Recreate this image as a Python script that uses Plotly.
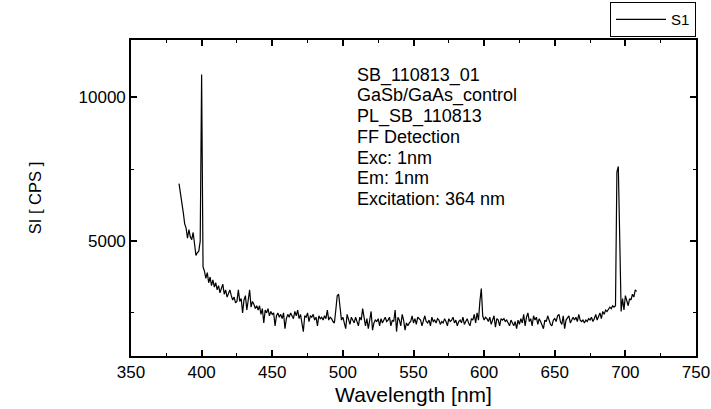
import plotly.graph_objects as go

# Wavelength start (1 nm steps)
wl_start = 384
intensity = [
    7000, 6700, 6250, 6000, 5600, 5450, 5100, 5400, 5150, 5050,   # 384-393
    5300, 4850, 4500, 4600, 4650, 5000, 10800, 4100, 3950, 3700,  # 394-403
    3900, 3550, 3750, 3450, 3650, 3400, 3550, 3300, 3450, 3200,   # 404-413
    3350, 3500, 3150, 3300, 3050, 3200, 3300, 3100, 2950, 3050,   # 414-423
    2850, 2900, 3300, 2900, 3000, 2500, 2950, 3100, 2600, 2950,   # 424-433
    3300, 2700, 2900, 2800, 2650, 2750, 2600, 2750, 2450, 2650,   # 434-443
    2150, 2600, 2500, 2650, 2400, 2550, 2450, 2500, 2050, 2400,   # 444-453
    2500, 2350, 2450, 2300, 2500, 1950, 2300, 2450, 2350, 2500,   # 454-463
    2400, 2300, 2550, 2400, 2600, 2300, 2450, 2200, 1850, 2400,   # 464-473
    2350, 2500, 2200, 2400, 2350, 2450, 2250, 2350, 2050, 2400,   # 474-483
    2300, 2350, 2250, 2400, 2300, 2600, 2250, 2350, 2300, 2200,   # 484-493
    2150, 2600, 3100, 3150, 2700, 2250, 2350, 2150, 1950, 2450,   # 494-503
    2300, 2100, 2350, 2250, 2150, 2350, 2200, 2050, 2350, 2250,   # 504-513
    2650, 2250, 2050, 2300, 1950, 2250, 2550, 1900, 2150, 2250,   # 514-523
    2200, 2300, 2050, 2300, 2150, 2250, 2350, 2200, 2250, 2350,   # 524-533
    2050, 2250, 2200, 2600, 1850, 2350, 2250, 2050, 2450, 2250,   # 534-543
    1900, 2150, 2050, 2150, 2200, 2400, 2150, 2300, 2100, 2350,   # 544-553
    2300, 2250, 2050, 2250, 2400, 2200, 2150, 2250, 2050, 2350,   # 554-563
    2200, 2250, 2150, 2300, 2250, 2100, 2200, 2150, 2300, 2200,   # 564-573
    2050, 2300, 2200, 2250, 2350, 2150, 2250, 2050, 2200, 2250,   # 574-583
    2150, 2350, 2100, 2200, 2300, 2150, 2050, 2300, 2250, 2450,   # 584-593
    2150, 2500, 2250, 2900, 3350, 2400, 2250, 2350, 2300, 2200,   # 594-603
    2350, 2100, 2250, 2400, 2000, 2300, 2250, 2050, 2300, 2250,   # 604-613
    2300, 2200, 2250, 2150, 2050, 2250, 2150, 2050, 2200, 1950,   # 614-623
    2250, 2100, 2300, 2150, 2450, 2050, 2350, 2500, 2200, 2300,   # 624-633
    2050, 2400, 2250, 2350, 2100, 2300, 2200, 2100, 1950, 2250,   # 634-643
    2200, 2400, 2200, 2100, 2050, 2250, 2300, 2200, 2400, 2450,   # 644-653
    2200, 2100, 2400, 1950, 2250, 2350, 2400, 2150, 2250, 2350,   # 654-663
    2250, 2350, 2200, 2450, 2250, 2200, 2250, 2150, 2250, 2200,   # 664-673
    2300, 2250, 2350, 2200, 2300, 2450, 2250, 2350, 2500, 2300,   # 674-683
    2550, 2450, 2600, 2550, 2650, 2700, 2650, 2750, 2700, 2750,   # 684-693
    7400, 7600, 5100, 2550, 3000, 2600, 3100, 2900, 2750, 3000,   # 694-703
    2950, 3150, 3050, 3300, 3250,                                 # 704-708
]
wavelength = [wl_start + i for i in range(len(intensity))]

x_ticks = [350, 400, 450, 500, 550, 600, 650, 700, 750]
y_ticks = [5000, 10000]

info_lines = [
    "SB_110813_01",
    "GaSb/GaAs_control",
    "PL_SB_110813",
    "FF Detection",
    "Exc: 1nm",
    "Em: 1nm",
    "Excitation: 364 nm",
]

FONT = "Liberation Sans, Arial, sans-serif"

W, H = 711, 409
M_L, M_R, M_T, M_B = 131, 15, 40, 53
PLOT_H = H - M_T - M_B

fig = go.Figure()
fig.add_trace(go.Scatter(
    x=wavelength, y=intensity, mode="lines", name="S1",
    line=dict(color="black", width=1.2),
))

axis_common = dict(
    showline=True, linecolor="black", linewidth=1.6, mirror="ticks",
    ticks="inside", ticklen=6, tickwidth=1.5, tickcolor="black",
    showgrid=False, zeroline=False, automargin=False,
    tickfont=dict(family=FONT, size=17, color="black"),
)

# info text block: one annotation per line, placed with fixed line pitch
line_top_px = 75.3   # centre of first line, px from top
line_pitch_px = 20.6
annotations = []
for i, txt in enumerate(info_lines):
    cy = line_top_px + i * line_pitch_px
    annotations.append(dict(
        xref="paper", yref="paper", x=(356 - M_L) / (W - M_L - M_R),
        y=(H - M_B - cy) / PLOT_H,
        xanchor="left", yanchor="middle", align="left", showarrow=False,
        borderpad=0,
        text=txt, font=dict(family=FONT, size=18, color="black"),
    ))

fig.update_layout(
    width=W, height=H,
    margin=dict(l=M_L, r=M_R, t=M_T, b=M_B, autoexpand=False),
    paper_bgcolor="white", plot_bgcolor="white",
    font=dict(family=FONT, color="black"),
    showlegend=True,
    legend=dict(
        x=1, xanchor="right", y=1.12, yanchor="top",
        bordercolor="black", borderwidth=1, bgcolor="white",
        font=dict(family=FONT, size=15, color="black"),
        itemwidth=50, tracegroupgap=0,
    ),
    xaxis=dict(
        range=[350, 750], tickvals=x_ticks,
        minor=dict(dtick=25, ticks="inside", ticklen=3.5, tickwidth=1.2, tickcolor="black"),
        title=dict(text="Wavelength [nm]", font=dict(family=FONT, size=21, color="black"), standoff=6),
        **axis_common,
    ),
    yaxis=dict(
        range=[1000, 12000], tickvals=y_ticks, tickformat="d",
        minor=dict(dtick=2500, ticks="inside", ticklen=3.5, tickwidth=1.2, tickcolor="black"),
        title=dict(text="SI [ CPS ]", font=dict(family=FONT, size=16.5, color="black"), standoff=33),
        **axis_common,
    ),
    annotations=annotations,
)

fig.write_html("out.html")
